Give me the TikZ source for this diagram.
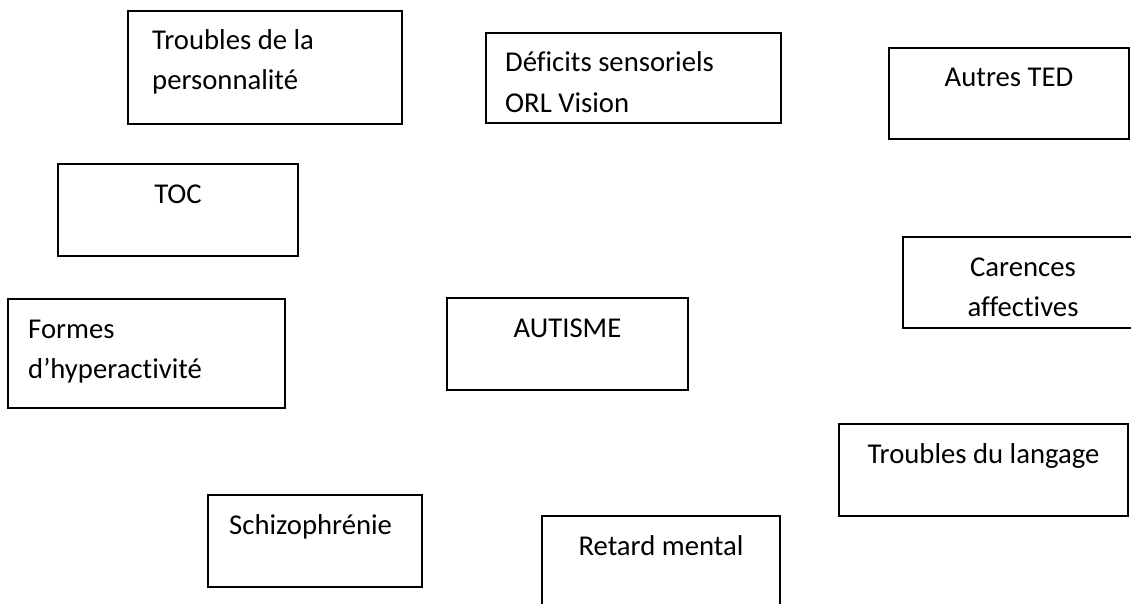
\documentclass[tikz,border=0pt]{standalone}
\usepackage{fontspec}
\setmainfont{Carlito}[Ligatures={NoCommon,NoContextual}]
\begin{document}
\begin{tikzpicture}[x=1pt,y=-1pt,
  box/.style={draw=black, line width=1.5pt, inner sep=0pt},
  lbl/.style={inner sep=0pt, font=\fontsize{28.7}{40.3}\selectfont}]
\useasboundingbox (0,0) rectangle (1131,603);
\fill[white] (0,0) rectangle (1131,603);
\begin{scope}
\clip (0,0) rectangle (1131,603);
% boxes
\node[box, minimum width=274pt, minimum height=113pt] (tp) at (265,67.5) {};
\node[box, minimum width=295pt, minimum height=90pt] (ds) at (633.5,78) {};
\node[box, minimum width=240pt, minimum height=91pt] (at) at (1009,93.5) {};
\node[box, minimum width=240pt, minimum height=92pt] (toc) at (178,210) {};
\node[box, minimum width=240pt, minimum height=91pt] (ca) at (1023,282.5) {};
\node[box, minimum width=277pt, minimum height=109pt] (fh) at (146.5,353.5) {};
\node[box, minimum width=241pt, minimum height=92pt] (au) at (567.5,344) {};
\node[box, minimum width=289pt, minimum height=92pt] (tl) at (983.5,470) {};
\node[box, minimum width=214pt, minimum height=92pt] (sc) at (315,541) {};
\node[box, minimum width=238pt, minimum height=92pt] (rm) at (661,562) {};
% texts
\node[lbl, anchor=base west] (tpa) at (152,49) {Troubles de la};
\node[lbl, anchor=base west] (tpb) at (152,89.3) {personnalité};
\node[lbl, anchor=base west] (dsa) at (505,71) {Déficits sensoriels};
\node[lbl, anchor=base west] (dsb) at (505,112) {ORL Vision};
\node[lbl, anchor=base] (ata) at (1009,86) {Autres TED};
\node[lbl, anchor=base] (toca) at (178,203) {TOC};
\node[lbl, anchor=base] (caa) at (1023,276) {Carences};
\node[lbl, anchor=base] (cab) at (1023,316) {affectives};
\node[lbl, anchor=base west] (fha) at (28,338) {Formes};
\node[lbl, anchor=base west] (fhb) at (28,378) {d’hyperactivité};
\node[lbl, anchor=base] (aua) at (567.5,337) {AUTISME};
\node[lbl, anchor=base] (tla) at (983.5,463) {Troubles du langage};
\node[lbl, anchor=base west] (sca) at (229,534) {Schizophrénie};
\node[lbl, anchor=base] (rma) at (661,555) {Retard mental};
\end{scope}
\end{tikzpicture}
\end{document}
